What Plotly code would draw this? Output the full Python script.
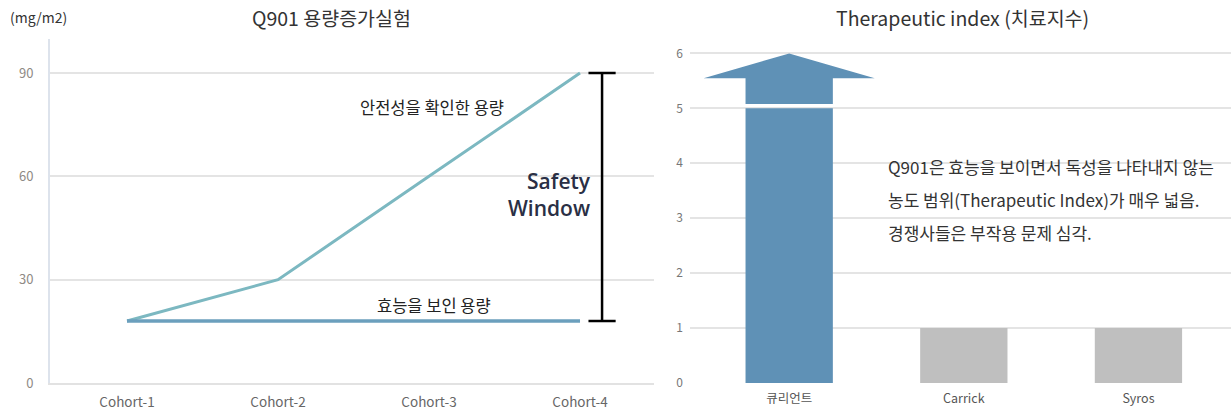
import plotly.graph_objects as go

# ---------------- data ----------------
cohorts = ["Cohort-1", "Cohort-2", "Cohort-3", "Cohort-4"]
safe_dose = [18, 30, 60, 90]          # 안전성을 확인한 용량
effective_dose = [18, 18, 18, 18]     # 효능을 보인 용량
left_ticks = [0, 30, 60, 90]

companies = ["큐리언트", "Carrick", "Syros"]
ti_values = [5, 1, 1]
right_ticks = [0, 1, 2, 3, 4, 5, 6]

note_lines = ["Q901은 효능을 보이면서 독성을 나타내지 않는",
              "농도 범위(Therapeutic Index)가 매우 넓음.",
              "경쟁사들은 부작용 문제 심각."]

# ---------------- style ----------------
FONT = "Noto Sans CJK KR"
W, H = 1231, 414
LINE_SAFE = "#7cb8c1"
LINE_EFF = "#6b9fbd"
BLUE = "#5f91b6"
GRAY = "#bfbfbf"
GRID = "#e4e4e4"

def px_x(p):
    return p / W

def px_y(p):
    return 1 - p / H

fig = go.Figure()

fig.add_trace(go.Scatter(x=cohorts, y=safe_dose, mode="lines",
                         line=dict(color=LINE_SAFE, width=3),
                         xaxis="x", yaxis="y", showlegend=False, hoverinfo="skip"))
fig.add_trace(go.Scatter(x=cohorts, y=effective_dose, mode="lines",
                         line=dict(color=LINE_EFF, width=3.5),
                         xaxis="x", yaxis="y", showlegend=False, hoverinfo="skip"))

bar_colors = [BLUE if i == 0 else GRAY for i in range(len(companies))]
fig.add_trace(go.Bar(x=companies, y=ti_values, marker=dict(color=bar_colors, line=dict(width=0)),
                     width=0.5, xaxis="x2", yaxis="y2", showlegend=False, hoverinfo="skip"))

ydom = [px_y(383), px_y(38.6)]
fig.update_layout(
    width=W, height=H,
    margin=dict(l=0, r=0, t=0, b=0),
    paper_bgcolor="white", plot_bgcolor="white",
    font=dict(family=FONT, color="#333"),
    xaxis=dict(domain=[px_x(50), px_x(654)], range=[-0.51, 3.49], type="category",
               automargin=False,
               showgrid=False, showline=True, linecolor="#e2e2e2", linewidth=2,
               ticks="", tickfont=dict(size=13.5, color="#666"), ticklabelstandoff=6,
               zeroline=False),
    yaxis=dict(domain=ydom, range=[0, 100], tickvals=left_ticks, automargin=False,
               showgrid=True, gridcolor=GRID, gridwidth=1.5,
               showline=True, linecolor="#dde3ec", linewidth=2,
               ticks="", tickfont=dict(size=13, color="#8f8a85"), ticklabelstandoff=12,
               zeroline=False),
    xaxis2=dict(domain=[px_x(690), 1], range=[-0.568, 2.53], type="category",
                automargin=False,
                showgrid=False, showline=False, ticks="",
                tickfont=dict(size=12.5, color="#555"), ticklabelstandoff=6, zeroline=False),
    yaxis2=dict(domain=ydom, range=[0, 6.27], tickvals=right_ticks, anchor="x2",
                automargin=False,
                showgrid=True, gridcolor=GRID, gridwidth=1.5, showline=False,
                ticks="", tickfont=dict(size=12, color="#777"), ticklabelstandoff=6,
                zeroline=False),
    bargap=0.5,
)

# ---- arrow on top of the first bar (derived from its value) ----
v = ti_values[0]
shaft_lo, head_base, tip = v + 0.08, v + 0.55, right_ticks[-1]
hw_shaft, hw_head = 0.25, 0.49
path = (f"M {-hw_shaft},{shaft_lo} L {hw_shaft},{shaft_lo} L {hw_shaft},{head_base} "
        f"L {hw_head},{head_base} L 0,{tip} L {-hw_head},{head_base} "
        f"L {-hw_shaft},{head_base} Z")
fig.add_shape(type="path", path=path, xref="x2", yref="y2",
              fillcolor=BLUE, line=dict(width=0), layer="above")

# ---- safety window bracket ----
lo, hi = min(effective_dose), max(safe_dose)
bx, cap = 3.146, 0.09
for y0, y1, x0, x1 in [(lo, hi, bx, bx), (hi, hi, bx - cap, bx + cap), (lo, lo, bx - cap, bx + cap)]:
    fig.add_shape(type="line", xref="x", yref="y", x0=x0, x1=x1, y0=y0, y1=y1,
                  line=dict(color="black", width=2.5))

# ---- texts ----
fig.add_annotation(text="Q901 용량증가실험", xref="paper", yref="paper", x=px_x(331), y=px_y(18),
                   showarrow=False, font=dict(size=19.5, color="#333"), xanchor="center", yanchor="middle")
fig.add_annotation(text="(mg/m2)", xref="paper", yref="paper", x=px_x(38), y=px_y(17),
                   showarrow=False, font=dict(size=14, color="#333"), xanchor="center", yanchor="middle")
fig.add_annotation(text="Therapeutic index (치료지수)", xref="paper", yref="paper", x=px_x(962), y=px_y(18),
                   showarrow=False, font=dict(size=19.5, color="#333"), xanchor="center", yanchor="middle")

fig.add_annotation(text="안전성을 확인한 용량", xref="x", yref="y", x=2.02, y=80.1,
                   showarrow=False, font=dict(size=16.5, color="#222"))
fig.add_annotation(text="효능을 보인 용량", xref="x", yref="y", x=2.03, y=22.6,
                   showarrow=False, font=dict(size=16.5, color="#222"))
fig.add_annotation(text="Safety<br>Window", xref="x", yref="y", x=2.8, y=54.6,
                   showarrow=False, align="right", xanchor="center",
                   font=dict(size=21, color="#2a2f45", family="Open Sans", weight=600))

for i, (line, ypx) in enumerate(zip(note_lines, [166, 200, 232])):
    fig.add_annotation(text=line, xref="paper", yref="paper", x=px_x(886), y=px_y(ypx),
                       xanchor="left", yanchor="middle", align="left", showarrow=False,
                       font=dict(size=17, color="#333"))

fig.write_html("out.html")
